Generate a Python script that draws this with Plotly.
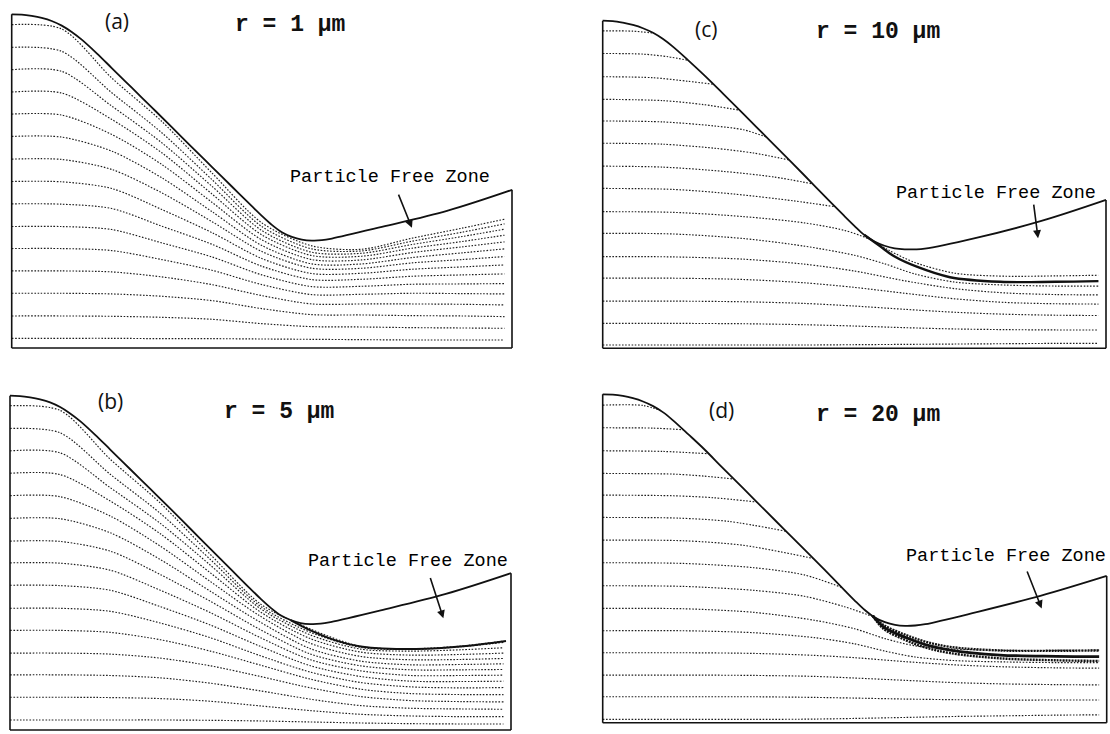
import plotly.graph_objects as go

W, H = 1110, 734

# ---------------- data (normalised units: x 0..100 along channel, y 0..100 height) ----------------
X_GRID = [0, 10, 20, 30, 40, 50, 60, 70, 80, 90, 98.5]
WALL_X = [0, 2, 4, 6, 8, 10, 12, 14, 17, 20, 24, 28, 32, 36, 40, 44, 48, 50, 52, 54, 56, 58, 60, 62, 64, 74, 87, 100]
WALL_Y_A = [100, 99.9, 99.5, 98.9, 98.0, 96.6, 94.7, 92.4, 88.3, 83.9, 78.0, 72.1, 66.2, 60.2, 54.3, 48.4, 42.5, 39.6, 36.9, 34.7, 33.3, 32.5, 32.2, 32.3, 32.8, 36.3, 41.1, 47.4]
WALL_Y_B = [100, 99.9, 99.5, 98.9, 98.0, 96.6, 94.7, 92.4, 88.3, 83.9, 78.0, 72.1, 66.2, 60.2, 54.2, 48.2, 42.2, 39.3, 36.6, 34.3, 32.9, 32.0, 31.7, 31.8, 32.3, 35.8, 40.7, 46.9]
WALL_Y_C = [100, 99.9, 99.4, 98.7, 97.7, 96.3, 94.4, 92.0, 87.9, 83.6, 77.6, 71.5, 65.3, 59.1, 52.9, 46.6, 40.4, 37.4, 34.6, 32.6, 31.3, 30.5, 30.2, 30.2, 30.4, 33.6, 38.8, 45.3]
WALL_Y_D = [100, 99.9, 99.5, 98.8, 97.8, 96.4, 94.5, 92.0, 87.8, 83.5, 77.3, 71.2, 65.0, 58.9, 52.8, 46.6, 40.3, 37.2, 34.3, 32.0, 30.6, 29.8, 29.5, 29.6, 30.0, 33.6, 38.7, 44.7]

# panel (a): r = 1 um, trajectories sampled on X_GRID
TRAJ_A = [
    [96.9, 95.6, 80.9, 67.9, 52.5, 37.5, 30.6, 29.6, 32.9, 35.9, 38.6],
    [90.1, 88.9, 76.5, 64.5, 50.5, 36.4, 29.7, 29.1, 32.0, 34.7, 37.2],
    [83.4, 82.9, 72.5, 61.5, 48.5, 35.2, 28.7, 28.4, 31.0, 33.4, 35.6],
    [76.7, 76.4, 68.5, 58.5, 46.2, 33.9, 27.7, 27.5, 29.9, 31.9, 33.8],
    [70.1, 69.8, 64.0, 55.0, 43.7, 32.4, 26.5, 26.4, 28.6, 30.3, 31.8],
    [63.4, 63.2, 59.0, 51.0, 40.9, 30.7, 25.2, 25.2, 27.1, 28.5, 29.7],
    [56.6, 56.5, 53.5, 46.5, 37.9, 28.9, 23.9, 23.9, 25.5, 26.5, 27.4],
    [49.9, 49.8, 47.8, 41.5, 34.6, 26.8, 22.3, 22.4, 23.6, 24.3, 24.9],
    [43.2, 43.1, 41.8, 36.5, 31.1, 24.5, 20.5, 20.6, 21.5, 21.9, 22.2],
    [36.4, 36.4, 35.5, 31.5, 27.3, 21.9, 18.4, 18.5, 19.1, 19.2, 19.3],
    [29.8, 29.8, 29.2, 26.5, 23.3, 19.0, 16.0, 16.1, 16.4, 16.3, 16.2],
    [23.1, 23.1, 22.8, 21.3, 19.0, 15.7, 13.2, 13.2, 13.2, 13.1, 12.9],
    [16.4, 16.4, 16.2, 15.5, 14.2, 11.8, 10.0, 9.9, 9.7, 9.6, 9.4],
    [9.6, 9.6, 9.5, 9.2, 8.6, 7.3, 6.4, 6.3, 6.1, 6.0, 5.9],
    [2.9, 2.9, 2.9, 2.8, 2.8, 2.7, 2.6, 2.5, 2.4, 2.4, 2.4],
]

# panel (b): r = 5 um
TRAJ_B = [
    [97.0, 95.6, 81.0, 67.9, 52.5, 37.7, 30.2, 25.0, 24.3, 25.1, 26.6],
    [90.2, 88.9, 76.5, 64.8, 51.0, 37.0, 29.2, 24.7, 24.1, 24.9, 26.2],
    [83.5, 82.9, 72.5, 61.8, 49.3, 36.3, 28.4, 24.2, 23.6, 24.0, 24.6],
    [76.8, 76.4, 68.5, 58.7, 47.0, 35.3, 27.3, 23.3, 22.4, 22.6, 23.0],
    [70.1, 69.8, 64.0, 55.0, 44.4, 34.0, 25.9, 22.0, 21.0, 21.1, 21.4],
    [63.3, 63.2, 59.0, 51.0, 41.5, 32.2, 24.3, 20.6, 19.5, 19.6, 19.8],
    [56.5, 56.4, 53.5, 46.5, 38.5, 30.0, 22.7, 19.2, 18.0, 18.0, 18.1],
    [50.0, 49.9, 47.8, 41.8, 35.1, 27.6, 21.0, 17.7, 16.3, 16.3, 16.4],
    [43.3, 43.2, 41.8, 36.9, 31.4, 25.0, 19.2, 16.0, 14.6, 14.5, 14.6],
    [36.4, 36.4, 35.5, 32.0, 27.6, 22.2, 17.3, 14.2, 12.9, 12.6, 12.7],
    [29.8, 29.8, 29.2, 27.0, 23.6, 19.4, 15.2, 12.2, 10.9, 10.6, 10.6],
    [23.0, 23.0, 22.7, 21.5, 19.2, 16.0, 12.6, 10.0, 8.8, 8.5, 8.4],
    [16.5, 16.5, 16.3, 15.6, 14.0, 11.7, 9.2, 7.3, 6.5, 6.3, 6.2],
    [9.8, 9.8, 9.7, 9.4, 8.6, 7.2, 5.8, 4.7, 4.2, 4.0, 4.0],
    [3.0, 3.0, 3.0, 3.0, 2.9, 2.7, 2.4, 2.1, 1.9, 1.8, 1.8],
]
LIMIT_B_X = [56, 60, 65, 70, 81, 91, 99]
LIMIT_B_Y = [32.9, 29.8, 26.8, 25.0, 24.2, 25.1, 26.6]

# panel (c): r = 10 um (upper trajectories end on the wall)
TRAJ_C_X = [
    [0, 6, 10.2],
    [0, 8, 13, 17.0],
    [0, 10, 17, 22.0],
    [0, 12, 20, 27.2],
    [0, 12, 22, 28, 32.5],
    [0, 12, 22, 30, 37.0],
    [0, 12, 24, 34, 41.7],
    [0, 14, 26, 38, 46.2],
    [0, 14, 28, 40, 48, 53, 57, 62, 70, 80, 90, 98.5],
    [0, 14, 28, 40, 50, 56, 62, 70, 80, 90, 98.5],
    [0, 14, 28, 40, 50, 60, 70, 80, 90, 98.5],
    [0, 14, 28, 40, 50, 60, 70, 80, 90, 98.5],
    [0, 14, 28, 40, 50, 60, 70, 80, 90, 98.5],
    [0, 14, 28, 40, 50, 60, 70, 80, 90, 98.5],
    [0, 14, 28, 40, 50, 60, 70, 80, 90, 98.5],
]
TRAJ_C_Y = [
    [96.9, 96.8, 96.2],
    [90.0, 89.8, 89.0, 87.9],
    [82.9, 82.6, 81.5, 80.6],
    [76.0, 75.6, 74.4, 72.7],
    [69.4, 69.1, 67.9, 66.7, 64.5],
    [62.6, 62.3, 61.1, 59.6, 57.5],
    [55.6, 55.3, 54.0, 52.3, 50.2],
    [48.8, 48.5, 47.1, 45.0, 43.2],
    [41.7, 41.5, 40.2, 38.3, 36.0, 33.3, 29.8, 26.2, 22.9, 22.0, 22.1, 22.3],
    [35.1, 34.9, 33.5, 31.2, 28.4, 25.8, 22.7, 20.2, 19.3, 19.0, 19.0],
    [28.0, 27.9, 27.2, 25.7, 23.6, 20.6, 18.2, 16.9, 16.4, 16.3],
    [21.4, 21.4, 21.0, 20.0, 18.6, 16.8, 15.1, 14.0, 13.6, 13.5],
    [14.4, 14.4, 14.2, 13.7, 12.9, 11.9, 11.0, 10.4, 10.1, 10.0],
    [7.6, 7.6, 7.5, 7.2, 6.8, 6.3, 5.9, 5.7, 5.6, 5.6],
    [1.0, 1.0, 1.0, 1.0, 1.1, 1.2, 1.3, 1.4, 1.5, 1.5],
]
LIMIT_C_X = [52, 55, 58, 62.4, 69, 79, 90, 98.5]
LIMIT_C_Y = [34.6, 31.3, 28.0, 24.9, 21.7, 20.3, 20.3, 20.5]

# panel (d): r = 20 um
TRAJ_D_X = [
    [0, 8, 11.4],
    [0, 10, 16.0],
    [0, 12, 21.0],
    [0, 14, 20, 26.0],
    [0, 14, 22, 30.6],
    [0, 15, 25, 36.4],
    [0, 16, 28, 41.8],
    [0, 16, 30, 40, 47.4],
    [0, 16, 30, 40, 48, 53.8],
    [0, 16, 30, 42, 50, 56, 62, 70, 80, 90, 98.5],
    [0, 16, 30, 42, 50, 56, 62, 70, 80, 90, 98.5],
    [0, 16, 30, 42, 50, 60, 70, 80, 90, 98.5],
    [0, 16, 30, 42, 50, 60, 70, 80, 90, 98.5],
    [0, 16, 30, 42, 50, 60, 70, 80, 90, 98.5],
    [0, 16, 30, 42, 50, 60, 70, 80, 90, 98.5],
]
TRAJ_D_Y = [
    [96.7, 96.6, 95.1],
    [89.8, 89.7, 89.2],
    [82.8, 82.6, 81.9],
    [75.9, 75.7, 75.1, 74.2],
    [69.3, 69.1, 68.5, 67.2],
    [62.5, 62.3, 61.3, 58.3],
    [55.6, 55.4, 54.0, 50.0],
    [48.7, 48.5, 47.2, 45.0, 41.2],
    [41.7, 41.5, 40.3, 38.5, 35.3, 32.2],
    [34.8, 34.7, 33.6, 31.2, 28.6, 25.6, 23.4, 22.4, 22.0, 22.0, 22.1],
    [28.0, 28.0, 27.4, 25.9, 24.0, 21.8, 20.0, 18.9, 18.5, 18.3, 18.3],
    [21.3, 21.3, 21.1, 20.5, 19.8, 18.6, 17.6, 17.0, 16.7, 16.6],
    [14.5, 14.5, 14.4, 14.1, 13.6, 12.9, 12.2, 11.8, 11.6, 11.5],
    [7.9, 7.9, 7.9, 7.7, 7.5, 7.2, 7.0, 6.9, 6.9, 6.9],
    [1.0, 1.0, 1.0, 1.1, 1.3, 1.6, 1.9, 2.1, 2.3, 2.4],
]
LIMIT_D_X = [53.6, 55.7, 60, 64, 68.9, 78.8, 90, 98.5]
LIMIT_D_Y = [32.5, 29.2, 26.0, 23.8, 22.1, 20.6, 20.2, 20.1]
BUNDLE_D_UP = [32.5, 29.8, 26.8, 24.7, 23.1, 22.0, 21.9, 22.0]
BUNDLE_D_LO = [32.5, 28.6, 25.2, 22.9, 21.2, 19.6, 19.0, 18.8]

PANEL_LABELS = ["(a)", "(b)", "(c)", "(d)"]
RADIUS_LABELS = ["r = 1 µm", "r = 5 µm", "r = 10 µm", "r = 20 µm"]
ZONE_TEXT = "Particle Free Zone"

# ---------------- layout (pixel boxes of each panel: left, right, top, bottom) ----------------
BOXES = [
    (11.7, 512.0, 14.3, 348.0),
    (10.0, 511.0, 395.7, 730.0),
    (602.7, 1106.0, 20.7, 348.3),
    (602.7, 1106.7, 394.3, 722.7),
]
LABEL_PX = [(117, 21), (110, 401), (706, 29), (721, 410)]
RADIUS_PX = [(290, 25), (279, 412), (878, 32), (878, 415)]
ZONE_POS = [(75.6, 51.2), (79.5, 50.3), (78.2, 47.4), (80.0, 50.5)]
ARROW_TAIL = [(77.2, 46.4), (83.8, 45.9), (85.6, 44.3), (84.1, 46.5)]
ARROW_HEAD = [(80.0, 36.0), (86.5, 33.4), (86.5, 33.6), (87.1, 34.8)]

DOT = dict(color="#1e1e1e", width=1.15, dash="1.6px,1.6px")
MONO = "Liberation Mono, Courier New, monospace"

fig = go.Figure()
layout_axes = {}

walls = [WALL_Y_A, WALL_Y_B, WALL_Y_C, WALL_Y_D]
traj_sets = [
    ([X_GRID] * len(TRAJ_A), TRAJ_A),
    ([X_GRID] * len(TRAJ_B), TRAJ_B),
    (TRAJ_C_X, TRAJ_C_Y),
    (TRAJ_D_X, TRAJ_D_Y),
]


def add_line(x, y, xa, ya, line):
    fig.add_trace(go.Scatter(x=x, y=y, mode="lines", line=line, xaxis=xa, yaxis=ya,
                             showlegend=False, hoverinfo="skip"))


for i, box in enumerate(BOXES):
    n = "" if i == 0 else str(i + 1)
    xa, ya = "x" + n, "y" + n
    left, right, top, bottom = box
    sx = (right - left) / 100.0
    sy = (bottom - top) / 100.0
    pad = 6
    dl, dr = max(0, left - pad), min(W, right + pad)
    dt, db = max(0, top - pad), min(H, bottom + pad)
    layout_axes["xaxis" + n] = dict(domain=[dl / W, dr / W], range=[(dl - left) / sx, (dr - left) / sx],
                                    visible=False, anchor=ya, fixedrange=True)
    layout_axes["yaxis" + n] = dict(domain=[1 - db / H, 1 - dt / H], range=[(bottom - db) / sy, (bottom - dt) / sy],
                                    visible=False, anchor=xa, fixedrange=True)

    wy = walls[i]
    txs, tys = traj_sets[i]
    for tx, ty in zip(txs, tys):
        add_line(tx, ty, xa, ya, dict(shape="spline", smoothing=0.8, **DOT))

    if i == 1:
        add_line(LIMIT_B_X, LIMIT_B_Y, xa, ya, dict(color="#111", width=2, shape="spline"))
    if i == 2:
        add_line(LIMIT_C_X, LIMIT_C_Y, xa, ya, dict(color="#111", width=2.4, shape="spline"))
    if i == 3:
        for by in (BUNDLE_D_UP, BUNDLE_D_LO):
            add_line(LIMIT_D_X, by, xa, ya, dict(color="#111", width=2.4, dash="2px,1px", shape="spline"))
        add_line(LIMIT_D_X, LIMIT_D_Y, xa, ya, dict(color="#111", width=2.8, shape="spline"))

    # wall
    add_line(WALL_X, wy, xa, ya, dict(color="#111", width=1.8, shape="spline", smoothing=1.0))
    # frame: left, bottom and right borders
    fx = [WALL_X[0], WALL_X[0], None, WALL_X[0], WALL_X[-1], None, WALL_X[-1], WALL_X[-1]]
    fy = [0, wy[0], None, 0, 0, None, 0, wy[-1]]
    add_line(fx, fy, xa, ya, dict(color="#111", width=1.6))

    # texts
    lx, ly = LABEL_PX[i]
    fig.add_annotation(x=lx / W, y=1 - ly / H, xref="paper", yref="paper", text=PANEL_LABELS[i],
                       showarrow=False, font=dict(family="Open Sans, Liberation Sans", size=21, color="#111"),
                       xanchor="center", yanchor="middle")
    rx, ry = RADIUS_PX[i]
    fig.add_annotation(x=rx / W, y=1 - ry / H, xref="paper", yref="paper", text="<b>" + RADIUS_LABELS[i] + "</b>",
                       showarrow=False, font=dict(family=MONO, size=23, color="#111"),
                       xanchor="center", yanchor="middle")
    zx, zy = ZONE_POS[i]
    fig.add_annotation(x=zx, y=zy, xref=xa, yref=ya, text=ZONE_TEXT, showarrow=False,
                       font=dict(family=MONO, size=18.5, color="#000"),
                       xanchor="center", yanchor="middle")
    (tx0, ty0), (hx, hy) = ARROW_TAIL[i], ARROW_HEAD[i]
    fig.add_annotation(x=hx, y=hy, ax=tx0, ay=ty0, xref=xa, yref=ya, axref=xa, ayref=ya, text="",
                       showarrow=True, arrowhead=2, arrowsize=1.0, arrowwidth=1.6, arrowcolor="#111")

fig.update_layout(width=W, height=H, margin=dict(l=0, r=0, t=0, b=0),
                  paper_bgcolor="white", plot_bgcolor="white", showlegend=False, **layout_axes)

fig.write_html("out.html")
